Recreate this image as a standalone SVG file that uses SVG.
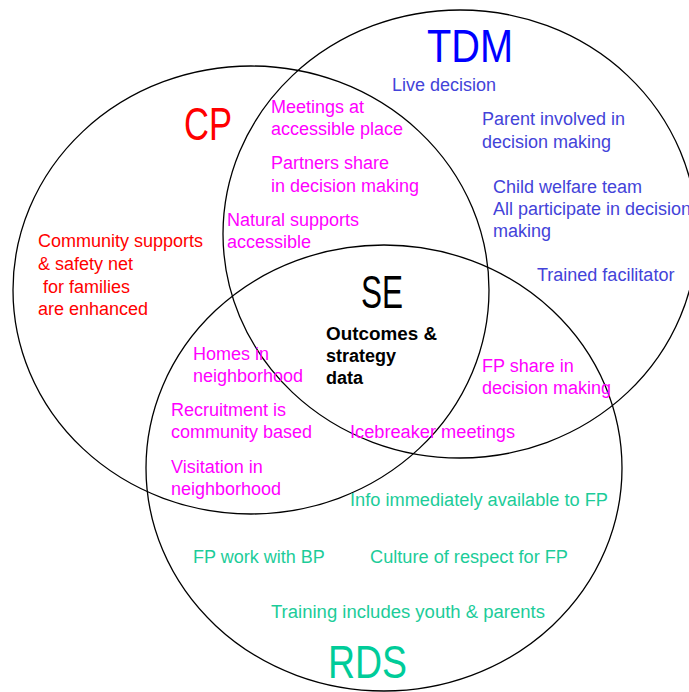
<svg xmlns="http://www.w3.org/2000/svg" width="689" height="692" viewBox="0 0 689 692">
<style>
.ring{fill:none;stroke:#000;stroke-width:1.3}
.t{font-family:"Liberation Sans",Arial,sans-serif;font-size:18px}
.big{font-family:"Liberation Sans",Arial,sans-serif;font-size:46px}
.blue{fill:#4343d9}
.mag{fill:#ff00ff}
.red{fill:#ff0000}
.grn{fill:#1ccc99}
.bold{font-weight:bold;fill:#000}
</style>
<rect width="689" height="692" fill="#fff"/>
<g id="node-cp">
<ellipse class="ring" cx="251" cy="290" rx="238" ry="224"/>
<text class="big red" x="184" y="140" textLength="48" lengthAdjust="spacingAndGlyphs">CP</text>
<text class="t red" x="38" y="247">Community supports</text>
<text class="t red" x="38" y="270">&amp; safety net</text>
<text class="t red" x="38" y="293" xml:space="preserve"> for families</text>
<text class="t red" x="38" y="315">are enhanced</text>
</g>
<g id="node-tdm">
<ellipse class="ring" cx="460" cy="234" rx="237" ry="224"/>
<text class="big" x="427" y="62" fill="#0000ff" textLength="86" lengthAdjust="spacingAndGlyphs">TDM</text>
<text class="t blue" x="392" y="91">Live decision</text>
<text class="t blue" x="482" y="125">Parent involved in</text>
<text class="t blue" x="482" y="148">decision making</text>
<text class="t blue" x="493" y="193">Child welfare team</text>
<text class="t blue" x="493" y="215">All participate in decision</text>
<text class="t blue" x="493" y="237">making</text>
<text class="t blue" x="537" y="281">Trained facilitator</text>
</g>
<g id="node-rds">
<ellipse class="ring" cx="384" cy="468" rx="238" ry="223"/>
<text class="big" x="328" y="678" style="fill:#00cc99" textLength="79" lengthAdjust="spacingAndGlyphs">RDS</text>
<text class="t grn" x="350" y="506" textLength="258" lengthAdjust="spacingAndGlyphs">Info immediately available to FP</text>
<text class="t grn" x="193" y="563">FP work with BP</text>
<text class="t grn" x="370" y="563" textLength="198" lengthAdjust="spacingAndGlyphs">Culture of respect for FP</text>
<text class="t grn" x="271" y="618" textLength="274" lengthAdjust="spacingAndGlyphs">Training includes youth &amp; parents</text>
</g>
<g id="node-se">
<text class="big" x="361" y="308" fill="#000" textLength="42" lengthAdjust="spacingAndGlyphs">SE</text>
<text class="t bold" x="326" y="340" textLength="111" lengthAdjust="spacingAndGlyphs">Outcomes &amp;</text>
<text class="t bold" x="326" y="362">strategy</text>
<text class="t bold" x="326" y="384">data</text>
</g>
<g id="overlap-items">
<text class="t mag" x="271" y="113">Meetings at</text>
<text class="t mag" x="271" y="135">accessible place</text>
<text class="t mag" x="271" y="169">Partners share</text>
<text class="t mag" x="271" y="192">in decision making</text>
<text class="t mag" x="227" y="226">Natural supports</text>
<text class="t mag" x="227" y="248">accessible</text>
<text class="t mag" x="193" y="360">Homes in</text>
<text class="t mag" x="193" y="382">neighborhood</text>
<text class="t mag" x="482" y="372">FP share in</text>
<text class="t mag" x="482" y="394">decision making</text>
<text class="t mag" x="171" y="416">Recruitment is</text>
<text class="t mag" x="171" y="438">community based</text>
<text class="t mag" x="350" y="438" textLength="165" lengthAdjust="spacingAndGlyphs">Icebreaker meetings</text>
<text class="t mag" x="171" y="473">Visitation in</text>
<text class="t mag" x="171" y="495">neighborhood</text>
</g>
<g id="connectors"/>
</svg>
